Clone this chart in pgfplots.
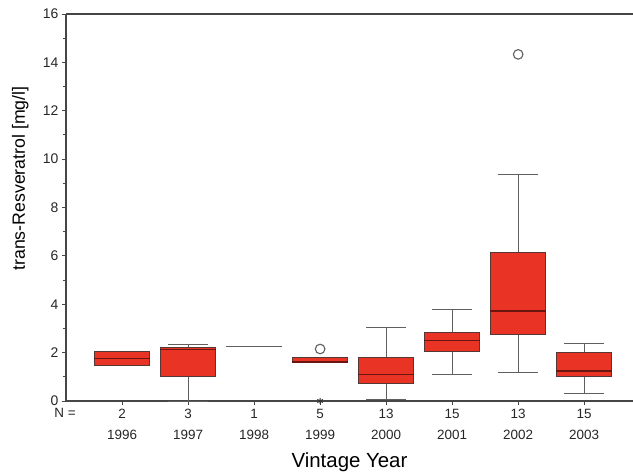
\documentclass[border=0pt]{standalone}
\usepackage{fontspec}
\setmainfont{Liberation Sans}
\usepackage{pgfplots}
\pgfplotsset{compat=1.18}
\usepgfplotslibrary{statistics}
\definecolor{boxred}{RGB}{233,51,37}
\definecolor{boxedge}{RGB}{85,55,52}
\definecolor{meddark}{RGB}{105,22,16}
\definecolor{whisk}{RGB}{95,95,95}
\definecolor{axisgray}{RGB}{70,70,70}
\begin{document}
\begin{tikzpicture}
\begin{axis}[
  name=main,
  scale only axis,
  width=567bp, height=387bp,
  xmin=0.15, xmax=8.74,
  ymin=0, ymax=16,
  clip=false,
  axis x line*=box,
  axis y line*=left,
  axis line style={axisgray, line width=1.2bp},
  xtick pos=lower, ytick pos=left,
  tick align=outside,
  ytick={0,2,...,16},
  minor ytick={1,3,...,15},
  major tick length=4bp, minor tick length=3bp,
  tick style={axisgray, line width=0.9bp},
  xtick={1,...,8},
  xticklabels={{2\strut\\[6bp]1996\strut},{3\strut\\[6bp]1997\strut},{1\strut\\[6bp]1998\strut},{5\strut\\[6bp]1999\strut},{13\strut\\[6bp]2000\strut},{15\strut\\[6bp]2001\strut},{13\strut\\[6bp]2002\strut},{15\strut\\[6bp]2003\strut}},
  xticklabel style={align=center, font=\fontsize{13.5}{15}\selectfont, color=black!85, yshift=0bp},
  yticklabel style={font=\fontsize{14}{16}\selectfont, color=black!85},
  /pgf/number format/assume math mode=true,
  xlabel={Vintage Year},
  ylabel={trans-Resveratrol [mg/l]},
  xlabel style={font=\fontsize{20.5}{24}\selectfont, at={(axis description cs:0.5,0)}, yshift=-48bp, anchor=north},
  ylabel style={font=\fontsize{17.8}{21}\selectfont, at={(axis description cs:-0.06,0.575)}, anchor=south},
  boxplot/draw direction=y,
  boxplot/box extend=0.84,
  boxplot/whisker extend=0.6,
  boxplot/every box/.style={draw=boxedge, fill=boxred, line width=0.9bp},
  boxplot/every whisker/.style={draw=whisk, line width=0.9bp},
  boxplot/every median/.style={draw=meddark, line width=1.4bp},
]
\addplot[boxplot prepared={draw position=1, lower whisker=1.45, lower quartile=1.45, median=1.76, upper quartile=2.03, upper whisker=2.05}] coordinates {};
\addplot[boxplot prepared={draw position=2, lower whisker=0.0, lower quartile=1.03, median=2.13, upper quartile=2.22, upper whisker=2.35}] coordinates {};
\addplot[boxplot prepared={draw position=3, lower whisker=2.24, lower quartile=2.24, median=2.24, upper quartile=2.24, upper whisker=2.24}, boxplot/every median/.style={draw=whisk, line width=1bp}, boxplot/every box/.style={draw=whisk, line width=1bp}] coordinates {};
\addplot[boxplot prepared={draw position=4, lower whisker=1.58, lower quartile=1.58, median=1.62, upper quartile=1.81, upper whisker=1.81}] coordinates {};
\addplot[boxplot prepared={draw position=5, lower whisker=0.07, lower quartile=0.73, median=1.1, upper quartile=1.8, upper whisker=3.06}] coordinates {};
\addplot[boxplot prepared={draw position=6, lower whisker=1.09, lower quartile=2.03, median=2.49, upper quartile=2.83, upper whisker=3.77}] coordinates {};
\addplot[boxplot prepared={draw position=7, lower whisker=1.2, lower quartile=2.77, median=3.72, upper quartile=6.13, upper whisker=9.38}] coordinates {};
\addplot[boxplot prepared={draw position=8, lower whisker=0.3, lower quartile=1.01, median=1.24, upper quartile=1.99, upper whisker=2.36}] coordinates {};
% outliers
\addplot[only marks, mark=o, mark size=4.8bp, mark options={draw=whisk, line width=1.1bp}] coordinates {(4,2.15) (7,14.33)};
% extreme
\addplot[only marks, mark=asterisk, mark size=3.2bp, mark options={draw=black!80, line width=0.9bp}] coordinates {(4,0)};
\coordinate (bl) at (rel axis cs:0,0);
\node[font=\fontsize{13.5}{15}\selectfont, color=black!85, anchor=center] at ([shift={(-1bp,-12bp)}]rel axis cs:0,0) {N =};
\end{axis}
\pgfresetboundingbox
\path ([shift={(-66bp,-74bp)}]bl) rectangle ([shift={(567bp,401bp)}]bl);
\end{tikzpicture}
\end{document}
